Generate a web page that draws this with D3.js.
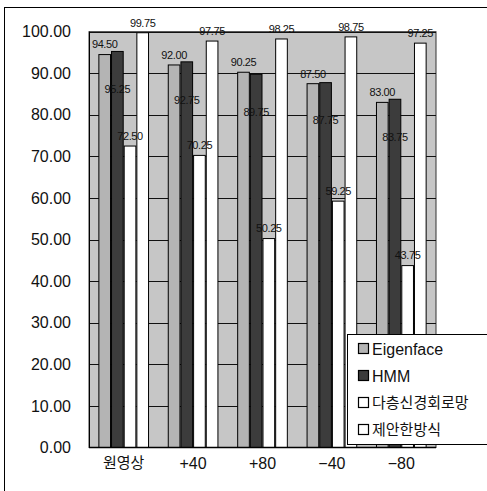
<!DOCTYPE html>
<html><head><meta charset="utf-8">
<script src="https://cdn.jsdelivr.net/npm/d3@7"></script>
<style>body{margin:0;background:#fff}svg{display:block}</style>
</head><body>
<svg id="c" width="487" height="491"></svg>
<script>
const categories = ["원영상", "+40", "+80", "−40", "−80"];
const seriesNames = ["Eigenface", "HMM", "다층신경회로망", "제안한방식"];
const eigenface = [94.50, 92.00, 90.25, 87.50, 83.00];
const hmm = [95.25, 92.75, 89.75, 87.75, 83.75];
const mlp = [72.50, 70.25, 50.25, 59.25, 43.75];
const proposed = [99.75, 97.75, 98.25, 98.75, 97.25];
const yTicks = [0, 10, 20, 30, 40, 50, 60, 70, 80, 90, 100];

const seriesValues = [eigenface, hmm, mlp, proposed];
const fills = ["#b4b4b4", "#3c3c3c", "#ffffff", "#ffffff"];

const svg = d3.select("#c");
const latin = "'Liberation Sans', Arial, sans-serif";
const kr = "'Noto Sans CJK KR', sans-serif";

// outer frame
svg.append("rect").attr("x", 4.5).attr("y", 7.5).attr("width", 500).attr("height", 500)
  .attr("fill", "none").attr("stroke", "#000").attr("stroke-width", 1);

const L = 89, R = 436, T = 31.7, B = 447.5;
const y = d3.scaleLinear().domain([0, 100]).range([B, T]);
const x0 = d3.scaleBand().domain(categories).range([L, R]).paddingInner(0.27).paddingOuter(0.135);
const x1 = d3.scaleBand().domain(seriesNames).range([0, x0.bandwidth()]).padding(0);

// plot background
svg.append("rect").attr("x", L).attr("y", T).attr("width", R - L).attr("height", B - T)
  .attr("fill", "#c6c6c6").attr("stroke", "#333").attr("stroke-width", 1);

// gridlines
svg.append("g").selectAll("line").data(yTicks.filter(d => d > 0)).join("line")
  .attr("x1", L).attr("x2", R)
  .attr("y1", d => Math.round(y(d)) + 0.5).attr("y2", d => Math.round(y(d)) + 0.5)
  .attr("stroke", "#111").attr("stroke-width", 1);

// bars
const rows = [];
categories.forEach((c, i) => seriesNames.forEach((s, j) => rows.push({c, s, j, v: seriesValues[j][i]})));
svg.append("g").selectAll("rect").data(rows).join("rect")
  .attr("x", d => x0(d.c) + x1(d.s) + 0.5)
  .attr("y", d => y(d.v))
  .attr("width", x1.bandwidth() - 1)
  .attr("height", d => B - y(d.v))
  .attr("fill", d => fills[d.j]).attr("stroke", "#000").attr("stroke-width", 1);

// axes lines
svg.append("line").attr("x1", L + 0.5).attr("x2", L + 0.5).attr("y1", T).attr("y2", B).attr("stroke", "#000");
svg.append("line").attr("x1", L).attr("x2", R).attr("y1", B).attr("y2", B).attr("stroke", "#000").attr("stroke-width", 1.5);

// y tick labels
svg.append("g").selectAll("text").data(yTicks).join("text")
  .attr("x", 71).attr("y", d => y(d)).attr("dy", "0.35em")
  .attr("text-anchor", "end").attr("font-family", latin).attr("font-size", 16)
  .attr("fill", "#111").text(d3.format(".2f"));

// x labels
svg.append("g").selectAll("text").data(categories).join("text")
  .attr("x", d => x0(d) + x0.bandwidth() / 2).attr("y", 463).attr("dy", "0.35em")
  .attr("text-anchor", "middle")
  .attr("font-family", d => /[가-힣]/.test(d) ? kr : latin)
  .attr("font-size", d => /[가-힣]/.test(d) ? 15 : 16)
  .attr("fill", "#111").text(d => d);

// value labels
svg.append("g").selectAll("text").data(rows).join("text")
  .attr("x", d => x0(d.c) + x1(d.s) + x1.bandwidth() / 2)
  .attr("y", d => d.j === 1 ? y(d.v) + 38 : y(d.v) - 10)
  .attr("dy", "0.35em").attr("text-anchor", "middle")
  .attr("font-family", latin).attr("font-size", 11).attr("letter-spacing", -0.4)
  .attr("fill", "#111").text(d => d3.format(".2f")(d.v));

// legend
const lg = svg.append("g");
lg.append("rect").attr("x", 347.5).attr("y", 334.5).attr("width", 150).attr("height", 110)
  .attr("fill", "#fff").attr("stroke", "#000").attr("stroke-width", 1);
seriesNames.forEach((s, j) => {
  const cy = 349 + j * 27;
  lg.append("rect").attr("x", 358.5).attr("y", cy - 5.5).attr("width", 10).attr("height", 10)
    .attr("fill", fills[j]).attr("stroke", "#000").attr("stroke-width", 1.2);
  lg.append("text").attr("x", 372).attr("y", cy).attr("dy", "0.35em")
    .attr("font-family", /[가-힣]/.test(s) ? kr : latin)
    .attr("font-size", /[가-힣]/.test(s) ? 15 : 16)
    .attr("fill", "#111").text(s);
});
</script>
</body></html>
